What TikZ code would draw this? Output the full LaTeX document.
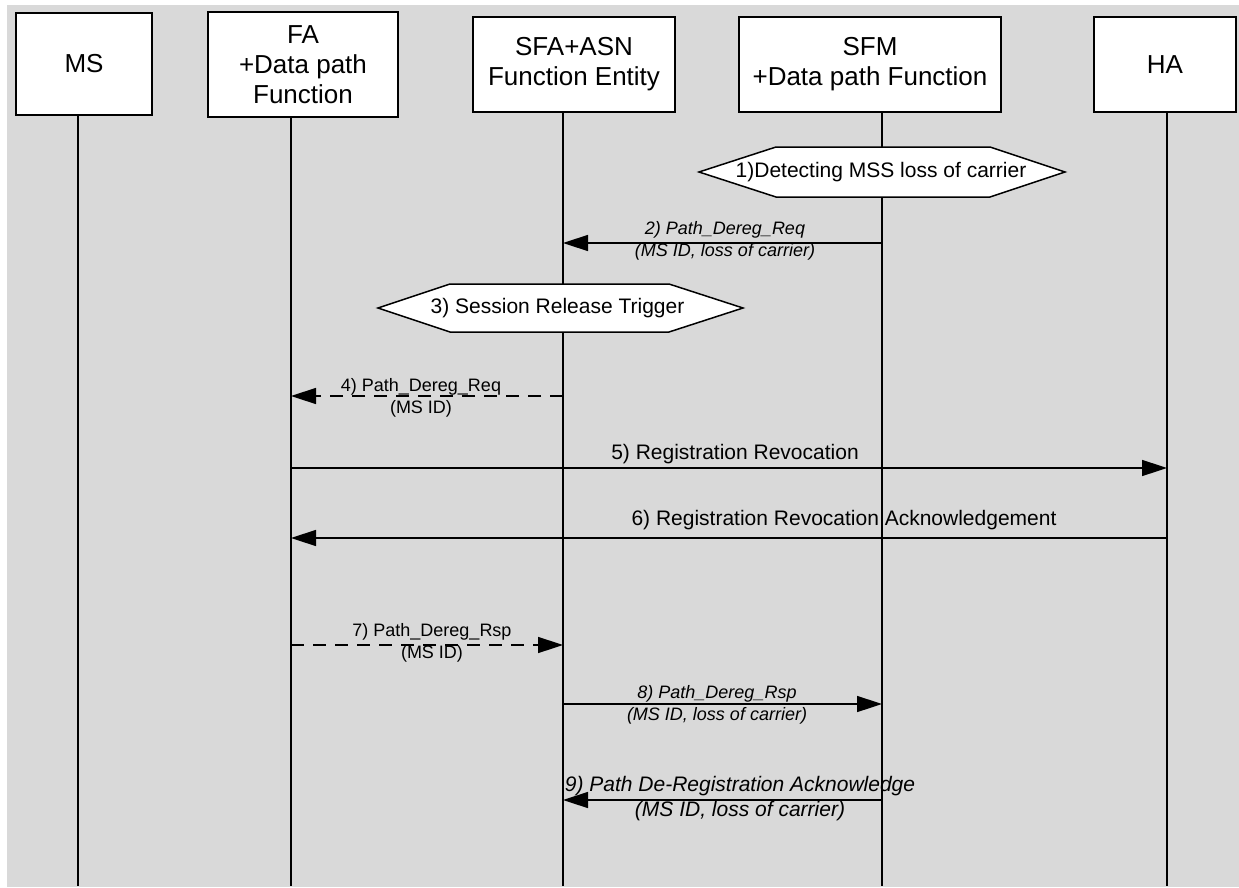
\documentclass[tikz,border=0pt]{standalone}
\usepackage{fontspec}
\setmainfont{Liberation Sans}
\usetikzlibrary{arrows.meta,calc}
\definecolor{bggray}{RGB}{217,217,217}
\begin{document}
\begin{tikzpicture}[x=1pt,y=-1pt,
 entity/.style={draw, line width=1.5pt, fill=white, align=center, inner sep=0pt, font=\fontsize{26}{30}\selectfont},
 life/.style={line width=1.5pt},
 hexa/.style={draw, line width=1.5pt, fill=white, line join=miter},
 hexlabel/.style={font=\fontsize{21}{25}\selectfont, inner sep=0pt},
 msg/.style={line width=1.5pt, -{Triangle[length=25pt,width=16pt]}},
 dmsg/.style={msg, dash pattern=on 13pt off 9pt},
 lab/.style={font=\fontsize{18}{22}\selectfont, align=center, inner sep=0pt},
 ilab/.style={lab, font=\fontsize{18}{22}\selectfont\itshape},
 biglab/.style={font=\fontsize{21}{25}\selectfont, align=center, inner sep=0pt},
 ibiglab/.style={biglab, font=\fontsize{21}{25}\selectfont\itshape}
]
\useasboundingbox (0,0) rectangle (1239,888);
\fill[bggray] (7,5) rectangle (1239,887);

% entities
\node[entity, minimum width=136pt, minimum height=102pt] (ms) at (84,64) {MS};
\node[entity, minimum width=190pt, minimum height=105pt] (fa) at (303,64.5) {FA\\+Data path\\Function};
\node[entity, minimum width=202pt, minimum height=95pt] (sfa) at (574,64.5) {SFA+ASN\\Function Entity};
\node[entity, minimum width=262pt, minimum height=95pt] (sfm) at (870,64.5) {SFM\\+Data path Function};
\node[entity, minimum width=142pt, minimum height=95pt] (ha) at (1165,64.5) {HA};

% lifelines
\coordinate (msB) at (78,886);
\coordinate (faB) at (291,886);
\coordinate (sfaB) at (563,886);
\coordinate (sfmB) at (882,886);
\coordinate (haB) at (1167,886);
\draw[life] (msB |- ms.south) -- (msB);
\draw[life] (faB |- fa.south) -- (faB);
\draw[life] (sfaB |- sfa.south) -- (sfaB);
\draw[life] (sfmB |- sfm.south) -- (sfmB);
\draw[life] (haB |- ha.south) -- (haB);

% hexagon 1
\coordinate (h1c) at (882,172);
\draw[hexa] ($(h1c)+(-183,0)$) -- ($(h1c)+(-106,-25)$) -- ($(h1c)+(108,-25)$) -- ($(h1c)+(183,0)$) -- ($(h1c)+(108,25)$) -- ($(h1c)+(-106,25)$) -- cycle;
\node[hexlabel] (h1) at (881,172) {1)Detecting MSS loss of carrier};

% hexagon 3
\coordinate (h3c) at (561,308);
\draw[hexa] ($(h3c)+(-183,0)$) -- ($(h3c)+(-111,-24)$) -- ($(h3c)+(108,-24)$) -- ($(h3c)+(182,0)$) -- ($(h3c)+(108,24)$) -- ($(h3c)+(-111,24)$) -- cycle;
\node[hexlabel] (h3) at (557.5,308) {3) Session Release Trigger};

% message end points
\coordinate (m2a) at (882,243); \coordinate (m2b) at (563,243);
\coordinate (m4a) at (563,396); \coordinate (m4b) at (291,396);
\coordinate (m5a) at (291,468); \coordinate (m5b) at (1167,468);
\coordinate (m6a) at (1167,538); \coordinate (m6b) at (291,538);
\coordinate (m7a) at (291,645); \coordinate (m7b) at (563,645);
\coordinate (m8a) at (563,704); \coordinate (m8b) at (882,704);
\coordinate (m9a) at (882,800); \coordinate (m9b) at (563,800);

\draw[msg] (m2a) -- (m2b);
\draw[dmsg] (m4a) -- (m4b);
\draw[msg] (m5a) -- (m5b);
\draw[msg] (m6a) -- (m6b);
\draw[dmsg] (m7a) -- (m7b);
\draw[msg] (m8a) -- (m8b);
\draw[msg] (m9a) -- (m9b);

% labels
\node[ilab] (l2) at (725,241) {2) Path\_Dereg\_Req\\(MS ID, loss of carrier)};
\node[lab] (l4) at (421,398) {4) Path\_Dereg\_Req\\(MS ID)};
\node[biglab, anchor=base] (l5) at (735,459) {5) Registration Revocation};
\node[biglab, anchor=base] (l6) at (844,525) {6) Registration Revocation Acknowledgement};
\node[lab] (l7) at (432,643) {7) Path\_Dereg\_Rsp\\(MS ID)};
\node[ilab] (l8) at (717,705) {8) Path\_Dereg\_Rsp\\(MS ID, loss of carrier)};
\node[ibiglab] (l9) at (740,799) {9) Path De-Registration Acknowledge\\(MS ID, loss of carrier)};
\end{tikzpicture}
\end{document}
